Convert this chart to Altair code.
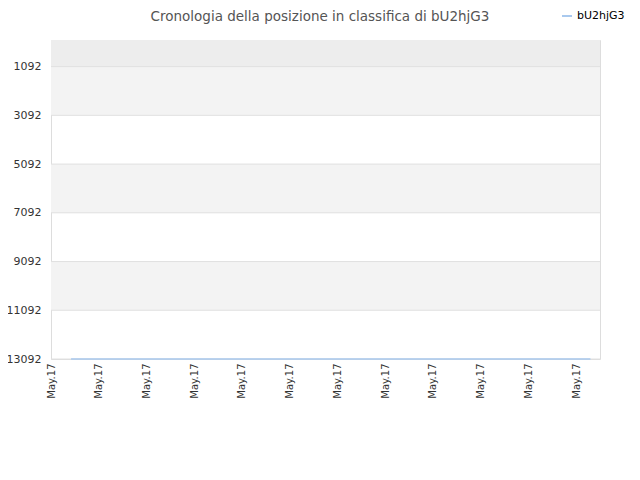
import altair as alt
import pandas as pd

# data
title_text = "Cronologia della posizione in classifica di bU2hjG3"
series_name = "bU2hjG3"
x_pos = [0.42, 11.3]
ranks = [13092, 13092]
tick_vals = [0, 1, 2, 3, 4, 5, 6, 7, 8, 9, 10, 11]
tick_label = "May.17"
y_ticks = [1092, 3092, 5092, 7092, 9092, 11092, 13092]
band_lo = [0, 1092, 5092, 9092]
band_hi = [1092, 3092, 7092, 11092]
band_col = ["#ededed", "#f3f3f3", "#f3f3f3", "#f3f3f3"]

line_df = pd.DataFrame({"x": x_pos, "rank": ranks, "serie": [series_name] * len(x_pos)})
band_df = pd.DataFrame({"lo": band_lo, "hi": band_hi, "c": band_col})
grid_df = pd.DataFrame({"y": y_ticks})
title_df = pd.DataFrame({"t": [title_text]})

xscale = alt.Scale(domain=[0, 11.5], nice=False, zero=False)
yscale = alt.Scale(domain=[0, 13092], reverse=True, nice=False, zero=False)

yaxis = alt.Axis(values=y_ticks, format="d", labelFontSize=11, labelColor="#333333",
                 labelFont="DejaVu Sans", grid=False, domain=False, ticks=False,
                 labelPadding=10, title=None)
xaxis = alt.Axis(values=tick_vals, labelExpr=f"'{tick_label}'", labelAngle=-90,
                 labelAlign="right", labelBaseline="middle", labelFontSize=10,
                 labelColor="#333333", labelFont="DejaVu Sans", labelPadding=4,
                 grid=False, domain=False, ticks=False, title=None)

bands = alt.Chart(band_df).mark_rect().encode(
    x=alt.value(0), x2=alt.value(549),
    y=alt.Y("lo:Q", scale=yscale, axis=yaxis),
    y2="hi:Q",
    fill=alt.Fill("c:N", scale=None),
)

grid = alt.Chart(grid_df).mark_rule(color="#e0e0e0", strokeWidth=1).encode(
    x=alt.value(0), x2=alt.value(549),
    y=alt.Y("y:Q", scale=yscale, axis=yaxis),
)

line = alt.Chart(line_df).mark_line(strokeWidth=1.5).encode(
    x=alt.X("x:Q", scale=xscale, axis=xaxis),
    y=alt.Y("rank:Q", scale=yscale, axis=yaxis),
    color=alt.Color("serie:N", scale=alt.Scale(range=["#a9c9ee"]),
                    legend=alt.Legend(title=None, orient="none", legendX=510, legendY=-30,
                                      symbolType="stroke", symbolStrokeWidth=2, symbolSize=100,
                                      labelFontSize=11, labelFont="DejaVu Sans",
                                      labelColor="#000000")),
)

title = alt.Chart(title_df).mark_text(
    fontSize=13.5, font="DejaVu Sans", color="#555555", align="center", baseline="middle"
).encode(text="t:N", x=alt.value(269), y=alt.value(-23))

chart = alt.layer(bands, grid, line, title).properties(
    width=549, height=319,
    autosize=alt.AutoSizeParams(type="none"),
    padding={"left": 43, "top": 32, "right": 32, "bottom": 113},
).configure_view(stroke="#dddddd", strokeWidth=1).configure(background="white")

chart.save("out.html", embed_options={"renderer": "svg", "actions": False})
